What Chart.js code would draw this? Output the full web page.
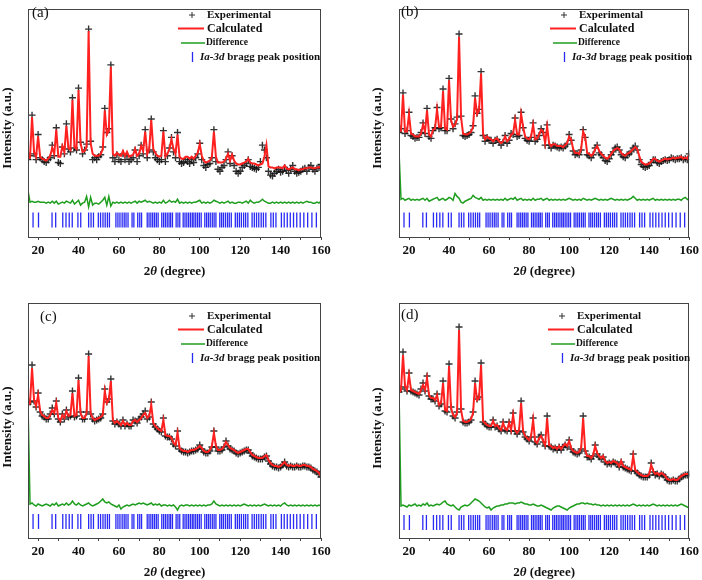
<!DOCTYPE html>
<html>
<head>
<meta charset="utf-8">
<script src="https://cdn.jsdelivr.net/npm/chart.js@4.4.0/dist/chart.umd.min.js"></script>
<style>
  body { margin: 0; background: #fff; }
  #wrap { position: relative; width: 702px; height: 580px; }
  canvas { position: absolute; }
</style>
</head>
<body>
<div id="wrap">
  <canvas id="cA" width="351" height="290" style="left:0;top:0"></canvas>
  <canvas id="cB" width="351" height="290" style="left:351px;top:0"></canvas>
  <canvas id="cC" width="351" height="290" style="left:0;top:290px"></canvas>
  <canvas id="cD" width="351" height="290" style="left:351px;top:290px"></canvas>
</div>
<script>
// 2theta grid (degree), shared by all panels
var twoTheta = [15,16,17,18,19,20,21,22,23,24,
  25,26,27,28,29,30,31,32,33,34,
  35,36,37,38,39,40,41,42,43,44,
  45,46,47,48,49,50,51,52,53,54,
  55,56,57,58,59,60,61,62,63,64,
  65,66,67,68,69,70,71,72,73,74,
  75,76,77,78,79,80,81,82,83,84,
  85,86,87,88,89,90,91,92,93,94,
  95,96,97,98,99,100,101,102,103,104,
  105,106,107,108,109,110,111,112,113,114,
  115,116,117,118,119,120,121,122,123,124,
  125,126,127,128,129,130,131,132,133,134,
  135,136,137,138,139,140,141,142,143,144,
  145,146,147,148,149,150,151,152,153,154,
  155,156,157,158,159,160];

var xTicks = [20,30,40,50,60,70,80,90,100,110,120,130,140,150,160];

// Ia-3d bragg peak positions (degree)
var braggPos = [17.5,20.2,26.9,28.7,32.2,33.8,35.4,36.9,39.7,41.1,45.0,46.2,47.4,49.8,50.9,52.1,53.2,54.3,55.3,
  58.5,59.5,60.5,61.6,62.6,63.5,64.5,66.5,67.4,69.3,70.3,71.2,74.0,74.9,75.8,76.7,77.6,78.5,79.4,
  81.2,82.1,83.0,83.9,84.8,85.6,86.5,88.3,89.2,90.1,91.8,92.7,93.6,94.5,95.4,96.3,97.1,98.0,98.9,99.8,
  100.7,102.5,103.4,104.3,105.2,106.2,107.1,108.0,109.9,110.8,111.7,112.7,113.7,114.6,115.6,117.6,
  118.6,119.6,120.6,121.7,122.7,123.8,125.9,127.0,128.1,129.2,130.4,131.5,132.7,135.2,136.4,137.7,
  140.4,141.8,143.3,144.8,146.4,148.0,149.7,151.5,153.4,155.5,157.7];

// panel (a)
var calcA = [81,82,124,88,83,104,83,81,80,79,
  81,84,92,86,111,83,83,94,88,115,
  92,90,142,93,91,152,97,88,89,93,
  213,97,86,84,84,84,86,91,131,106,
  110,176,86,84,87,85,84,89,84,88,
  83,84,85,91,84,86,94,89,109,86,
  91,121,91,87,84,83,84,109,83,86,
  91,101,91,86,106,83,81,81,83,83,
  81,83,81,84,87,96,84,79,77,78,
  79,83,109,83,77,77,77,78,81,86,
  79,85,79,76,75,75,76,77,78,81,
  77,76,76,75,74,75,76,83,95,73,
  72,72,71,72,72,72,71,74,71,70,
  71,72,70,70,69,70,70,71,71,72,
  72,71,71,72,72,73];
var obsA = [80,84,126,86,80,106,82,80,78,77,
  80,82,95,84,113,77,76,93,86,117,
  91,88,144,92,90,154,98,86,90,96,
  215,99,80,82,80,83,85,93,133,108,
  112,178,82,78,85,80,78,86,80,84,
  78,80,82,90,78,84,95,86,111,82,
  90,122,88,82,80,78,80,110,78,84,
  92,103,88,82,108,78,76,77,80,78,
  76,80,77,82,86,97,80,74,72,75,
  76,82,111,78,70,68,72,74,80,88,
  76,84,74,68,66,68,72,74,76,80,
  73,72,71,70,72,78,95,90,82,68,
  64,63,66,68,70,67,68,72,69,66,
  70,74,68,66,67,68,70,71,68,72,
  74,70,68,71,72,75];
var diffA = [48,36,37,36,36,37,36,36,36,35,
  36,35,37,35,37,34,35,36,35,37,
  36,35,38,34,36,38,33,35,36,42,
  31,41,33,35,35,34,36,38,41,33,
  42,32,36,35,36,35,36,35,36,35,
  36,35,36,37,35,37,36,37,38,36,
  37,36,35,36,35,36,35,38,35,36,
  38,36,37,36,39,35,36,35,36,35,
  36,35,36,36,37,38,35,36,35,36,
  35,36,38,37,36,35,36,35,36,37,
  35,36,35,35,36,36,35,36,37,35,
  38,36,35,36,36,37,39,37,36,35,
  35,36,35,36,35,36,35,36,35,36,
  35,36,35,36,35,36,35,36,37,36,
  36,35,35,36,35,37];

// panel (b)
var calcB = [109,110,147,109,109,127,107,106,104,104,
  104,107,116,109,131,106,104,111,112,132,
  114,114,151,112,111,162,121,114,116,122,
  207,124,107,106,106,107,109,114,144,127,
  131,169,107,101,104,102,101,99,101,102,
  99,97,99,104,99,101,106,107,121,106,
  106,127,114,104,102,101,104,116,101,102,
  106,111,109,97,114,97,94,96,96,94,
  94,94,93,95,97,104,101,91,87,87,
  86,91,109,104,87,86,84,86,91,94,
  89,86,84,82,81,83,86,89,91,92,
  91,87,85,84,86,87,89,91,93,91,
  84,78,76,75,75,76,78,81,81,79,
  78,79,80,81,80,81,81,82,81,82,
  82,83,81,82,81,86];
var obsB = [108,112,149,107,110,129,105,104,102,103,
  103,108,118,107,133,104,102,110,113,134,
  112,113,153,110,110,164,122,112,117,124,
  210,125,105,104,105,106,108,115,146,128,
  132,171,105,99,103,100,100,97,100,101,
  98,95,98,105,97,100,107,106,123,104,
  105,129,113,102,100,99,103,118,99,101,
  105,112,108,95,116,95,92,95,94,93,
  92,93,92,94,96,106,100,89,85,86,
  85,90,111,103,85,84,82,85,92,95,
  87,85,82,79,78,81,85,88,92,93,
  90,85,83,82,85,86,88,92,94,90,
  80,75,73,72,73,74,77,80,80,77,
  76,78,79,80,79,80,82,81,80,81,
  81,82,80,81,80,86];
var diffB = [89,39,40,38,39,40,38,39,38,39,
  38,39,40,38,40,37,38,39,40,41,
  38,39,40,38,39,41,40,38,45,42,
  40,36,35,37,38,39,40,43,41,40,
  39,41,38,39,38,39,38,39,38,39,
  38,39,38,40,38,39,40,39,41,38,
  39,40,38,39,38,39,38,40,38,39,
  39,40,38,39,40,38,39,38,39,38,
  39,38,39,38,39,40,39,38,39,38,
  39,38,40,39,38,39,38,39,40,39,
  38,39,38,39,38,39,40,39,38,39,
  38,39,38,39,38,39,40,42,40,38,
  39,38,39,38,39,38,39,40,38,39,
  38,39,38,39,38,39,38,39,38,39,
  39,38,40,41,39,38];

// panel (c)
var calcC = [133,135,170,138,132,143,127,123,122,120,
  120,123,128,125,135,120,117,123,120,127,
  122,123,145,122,123,158,125,120,120,125,
  182,125,120,118,119,120,121,123,147,135,
  138,157,118,115,117,115,113,117,113,115,
  113,113,117,118,116,118,120,123,125,120,
  122,133,115,112,110,108,107,118,103,102,
  102,100,95,93,105,90,88,87,87,86,
  87,88,88,89,90,92,90,87,86,86,
  88,92,105,92,88,88,89,92,96,93,
  90,89,88,86,85,86,87,88,89,89,
  86,83,82,81,80,80,80,82,83,78,
  75,73,72,72,71,72,74,76,73,72,
  73,72,72,73,72,72,73,73,72,72,
  71,69,68,67,65,62];
var obsC = [134,136,173,137,131,145,126,122,121,119,
  119,124,130,124,137,119,116,124,119,128,
  121,122,147,121,122,160,126,119,119,126,
  184,124,119,117,118,119,120,124,149,136,
  139,159,117,114,116,114,112,118,112,114,
  112,112,118,117,115,119,121,124,127,119,
  121,136,114,111,109,107,106,120,102,101,
  101,99,94,92,107,89,87,86,86,85,
  86,87,87,88,89,93,89,86,85,85,
  87,91,107,91,87,87,88,91,97,92,
  89,88,87,85,84,85,86,87,88,88,
  85,82,81,80,79,79,79,81,82,77,
  74,72,71,71,70,71,73,76,72,71,
  72,71,71,72,71,71,72,72,71,71,
  70,68,67,66,64,61];
var diffC = [135,34,35,33,32,34,33,32,33,34,
  33,32,34,33,35,32,33,34,33,35,
  33,34,37,34,33,35,33,32,33,34,
  35,33,32,33,34,35,37,39,36,35,
  36,34,33,32,31,33,29,31,32,33,
  32,33,34,33,34,35,34,35,34,33,
  34,35,33,34,33,34,32,33,33,32,
  33,32,33,31,28,32,33,32,33,33,
  32,33,32,33,32,33,32,33,32,33,
  33,34,37,34,33,32,33,32,33,32,
  33,32,33,32,33,32,33,34,33,32,
  33,32,33,32,33,32,33,34,33,32,
  33,32,33,32,33,32,34,35,33,32,
  33,32,33,32,33,32,33,32,33,32,
  33,32,33,32,33,32];

// panel (d)
var calcD = [145,148,183,152,148,163,148,147,146,145,
  144,148,153,148,160,143,140,140,138,143,
  133,135,155,128,127,172,130,123,121,125,
  208,128,117,116,116,117,119,125,155,138,
  140,173,117,115,113,112,112,117,112,113,
  110,108,115,109,108,115,108,123,108,105,
  108,135,107,102,100,98,102,118,97,95,
  100,102,97,93,120,93,92,90,91,89,
  92,89,92,94,92,97,90,87,86,85,
  86,90,120,88,82,82,80,83,92,85,
  82,80,82,77,75,76,75,77,76,75,
  72,77,72,71,70,69,68,82,68,66,
  64,63,62,62,62,64,73,67,64,65,
  63,65,64,62,59,58,58,59,58,58,
  60,62,63,64,64,64];
var obsD = [146,149,186,151,147,165,147,146,145,144,
  143,149,155,147,162,142,139,139,137,144,
  132,134,157,127,126,174,131,122,120,126,
  211,129,116,115,115,116,118,126,157,139,
  141,175,116,114,112,111,111,118,111,112,
  109,107,116,108,107,116,107,125,107,104,
  107,137,106,101,99,97,101,120,96,94,
  101,103,96,92,122,92,91,89,90,88,
  91,88,91,93,91,98,89,86,85,84,
  85,89,122,87,81,81,79,82,93,84,
  81,79,81,76,74,75,74,76,75,74,
  71,76,71,70,69,68,67,84,67,65,
  63,62,61,61,61,63,75,66,63,64,
  62,64,63,61,58,57,57,58,57,57,
  59,61,62,63,63,64];
var diffD = [148,32,33,32,31,33,32,33,34,32,
  33,32,34,33,35,32,33,32,33,34,
  33,34,36,37,34,33,32,33,31,29,
  28,31,32,33,32,33,35,37,39,38,
  37,35,33,31,30,31,28,30,31,32,
  32,33,33,34,34,35,35,35,34,35,
  35,36,35,34,34,33,33,34,33,32,
  32,33,32,31,30,29,28,30,31,32,
  32,31,30,29,28,30,31,32,33,34,
  34,35,35,34,35,34,34,33,34,33,
  33,32,33,32,33,32,33,32,33,32,
  33,32,33,32,33,32,33,34,33,32,
  33,32,33,32,33,32,33,34,33,32,
  33,32,33,32,33,32,33,32,33,32,
  33,34,33,32,31,30];

var SERIF = "'Liberation Serif', 'DejaVu Serif', serif";

function pts(ys){
  return twoTheta.map(function(x, i){ return {x: x, y: ys[i]}; });
}

// frame, panel label, legend and axis titles
var decoPlugin = {
  id: 'deco',
  afterDraw: function(chart, args, o){
    var ctx = chart.ctx, a = chart.chartArea;
    ctx.save();
    ctx.strokeStyle = '#444';
    ctx.lineWidth = 1;
    ctx.strokeRect(Math.round(a.left) + 0.5, Math.round(a.top) + 0.5,
      Math.round(a.right - a.left) - 1, Math.round(a.bottom - a.top));

    ctx.fillStyle = '#111';
    ctx.textBaseline = 'middle';
    ctx.font = '15px ' + SERIF;
    ctx.fillText(o.label, o.labelX, o.labelY);

    // legend
    var tx = o.legX, ty = o.legY;
    ctx.strokeStyle = '#333';
    ctx.beginPath();
    ctx.moveTo(tx - 18, ty); ctx.lineTo(tx - 12, ty);
    ctx.moveTo(tx - 15, ty - 3); ctx.lineTo(tx - 15, ty + 3);
    ctx.stroke();
    ctx.font = 'bold 11px ' + SERIF;
    ctx.fillText('Experimental', tx, ty);

    var y2 = ty + 13.5;
    ctx.strokeStyle = '#ff2020'; ctx.lineWidth = 2;
    ctx.beginPath(); ctx.moveTo(tx - 29, y2); ctx.lineTo(tx - 3, y2); ctx.stroke();
    ctx.font = 'bold 12px ' + SERIF;
    ctx.fillText('Calculated', tx, y2);

    var y3 = ty + 28;
    ctx.strokeStyle = '#1f9e1f'; ctx.lineWidth = 1.5;
    ctx.beginPath(); ctx.moveTo(tx - 26, y3); ctx.lineTo(tx - 2, y3); ctx.stroke();
    ctx.font = 'bold 9.5px ' + SERIF;
    ctx.fillText('Difference', tx - 1, y3);

    var y4 = ty + 42;
    ctx.strokeStyle = '#2a2af5'; ctx.lineWidth = 1.3;
    ctx.beginPath(); ctx.moveTo(tx - 14.5, y4 - 5); ctx.lineTo(tx - 14.5, y4 + 5); ctx.stroke();
    ctx.font = 'italic bold 11px ' + SERIF;
    ctx.fillText('Ia-3d', tx - 7, y4);
    var w = ctx.measureText('Ia-3d').width;
    ctx.font = 'bold 11px ' + SERIF;
    ctx.fillText(' bragg peak position', tx - 7 + w, y4);

    // x title: 2θ (degree)
    var parts = [['2', 'bold 13px '], ['\u03b8', 'italic bold 13px '], [' (degree)', 'bold 13px ']];
    var total = 0;
    parts.forEach(function(p){ ctx.font = p[1] + SERIF; total += ctx.measureText(p[0]).width; });
    var cx = (a.left + a.right) / 2 - total / 2, cy = a.bottom + 35;
    parts.forEach(function(p){
      ctx.font = p[1] + SERIF;
      ctx.fillText(p[0], cx, cy);
      cx += ctx.measureText(p[0]).width;
    });

    // y title
    ctx.translate(o.yTitleX, o.yTitleY);
    ctx.rotate(-Math.PI / 2);
    ctx.textAlign = 'center';
    ctx.font = 'bold 13px ' + SERIF;
    ctx.fillText('Intensity (a.u.)', 0, 0);
    ctx.restore();
  }
};

function makePanel(id, calc, obs, diff, p){
  var canvasH = 290;
  new Chart(document.getElementById(id).getContext('2d'), {
    type: 'scatter',
    data: {
      datasets: [
        { label: 'Calculated', data: pts(calc), showLine: true, borderColor: '#ff2020',
          borderWidth: 2, pointRadius: 0, tension: 0 },
        { label: 'Experimental', data: pts(obs), showLine: false, pointStyle: 'cross',
          pointRadius: 3.5, borderColor: 'rgba(15,15,15,0.85)', borderWidth: 1.4 },
        { label: 'Difference', data: pts(diff), showLine: true, borderColor: '#1f9e1f',
          borderWidth: 1.5, pointRadius: 0, tension: 0 },
        { label: 'Ia-3d bragg peak position',
          data: braggPos.map(function(b){ return {x: b, y: p.braggY}; }),
          showLine: false, pointStyle: 'line', rotation: 90, pointRadius: 7.5,
          borderColor: '#2a2af5', borderWidth: 1.3 }
      ]
    },
    options: {
      responsive: false,
      animation: false,
      layout: { padding: { left: p.left, top: p.top, right: 351 - p.right, bottom: 0 } },
      plugins: {
        legend: { display: false },
        tooltip: { enabled: false },
        deco: p
      },
      scales: {
        x: {
          type: 'linear', min: 15, max: 160,
          afterBuildTicks: function(s){ s.ticks = xTicks.map(function(v){ return {value: v}; }); },
          afterFit: function(s){ s.height = canvasH - p.bottom; },
          grid: { display: true, drawOnChartArea: false, drawTicks: true, tickLength: 3, color: '#444' },
          border: { display: false },
          ticks: {
            autoSkip: false, maxRotation: 0, padding: 3, color: '#111',
            font: { family: SERIF, size: 13, weight: 'bold' },
            callback: function(v){ return v % 20 === 0 ? v : ''; }
          }
        },
        y: { type: 'linear', display: false, min: 0, max: p.bottom - p.top }
      }
    },
    plugins: [decoPlugin]
  });
}

makePanel('cA', calcA, obsA, diffA, {left: 28, top: 1, right: 321, bottom: 237, braggY: 17.5,
  label: '(a)', labelX: 32, labelY: 13, legX: 207, legY: 15, yTitleX: 8, yTitleY: 128});
makePanel('cB', calcB, obsB, diffB, {left: 48, top: 1, right: 340, bottom: 237, braggY: 17.5,
  label: '(b)', labelX: 50, labelY: 12, legX: 228, legY: 15, yTitleX: 27, yTitleY: 128});
makePanel('cC', calcC, obsC, diffC, {left: 28, top: 13, right: 321, bottom: 248, braggY: 16.5,
  label: '(c)', labelX: 40, labelY: 27, legX: 207, legY: 26, yTitleX: 8, yTitleY: 137});
makePanel('cD', calcD, obsD, diffD, {left: 48, top: 13, right: 340, bottom: 248, braggY: 15.5,
  label: '(d)', labelX: 50, labelY: 25, legX: 226, legY: 26, yTitleX: 27, yTitleY: 138});
</script>
</body>
</html>
